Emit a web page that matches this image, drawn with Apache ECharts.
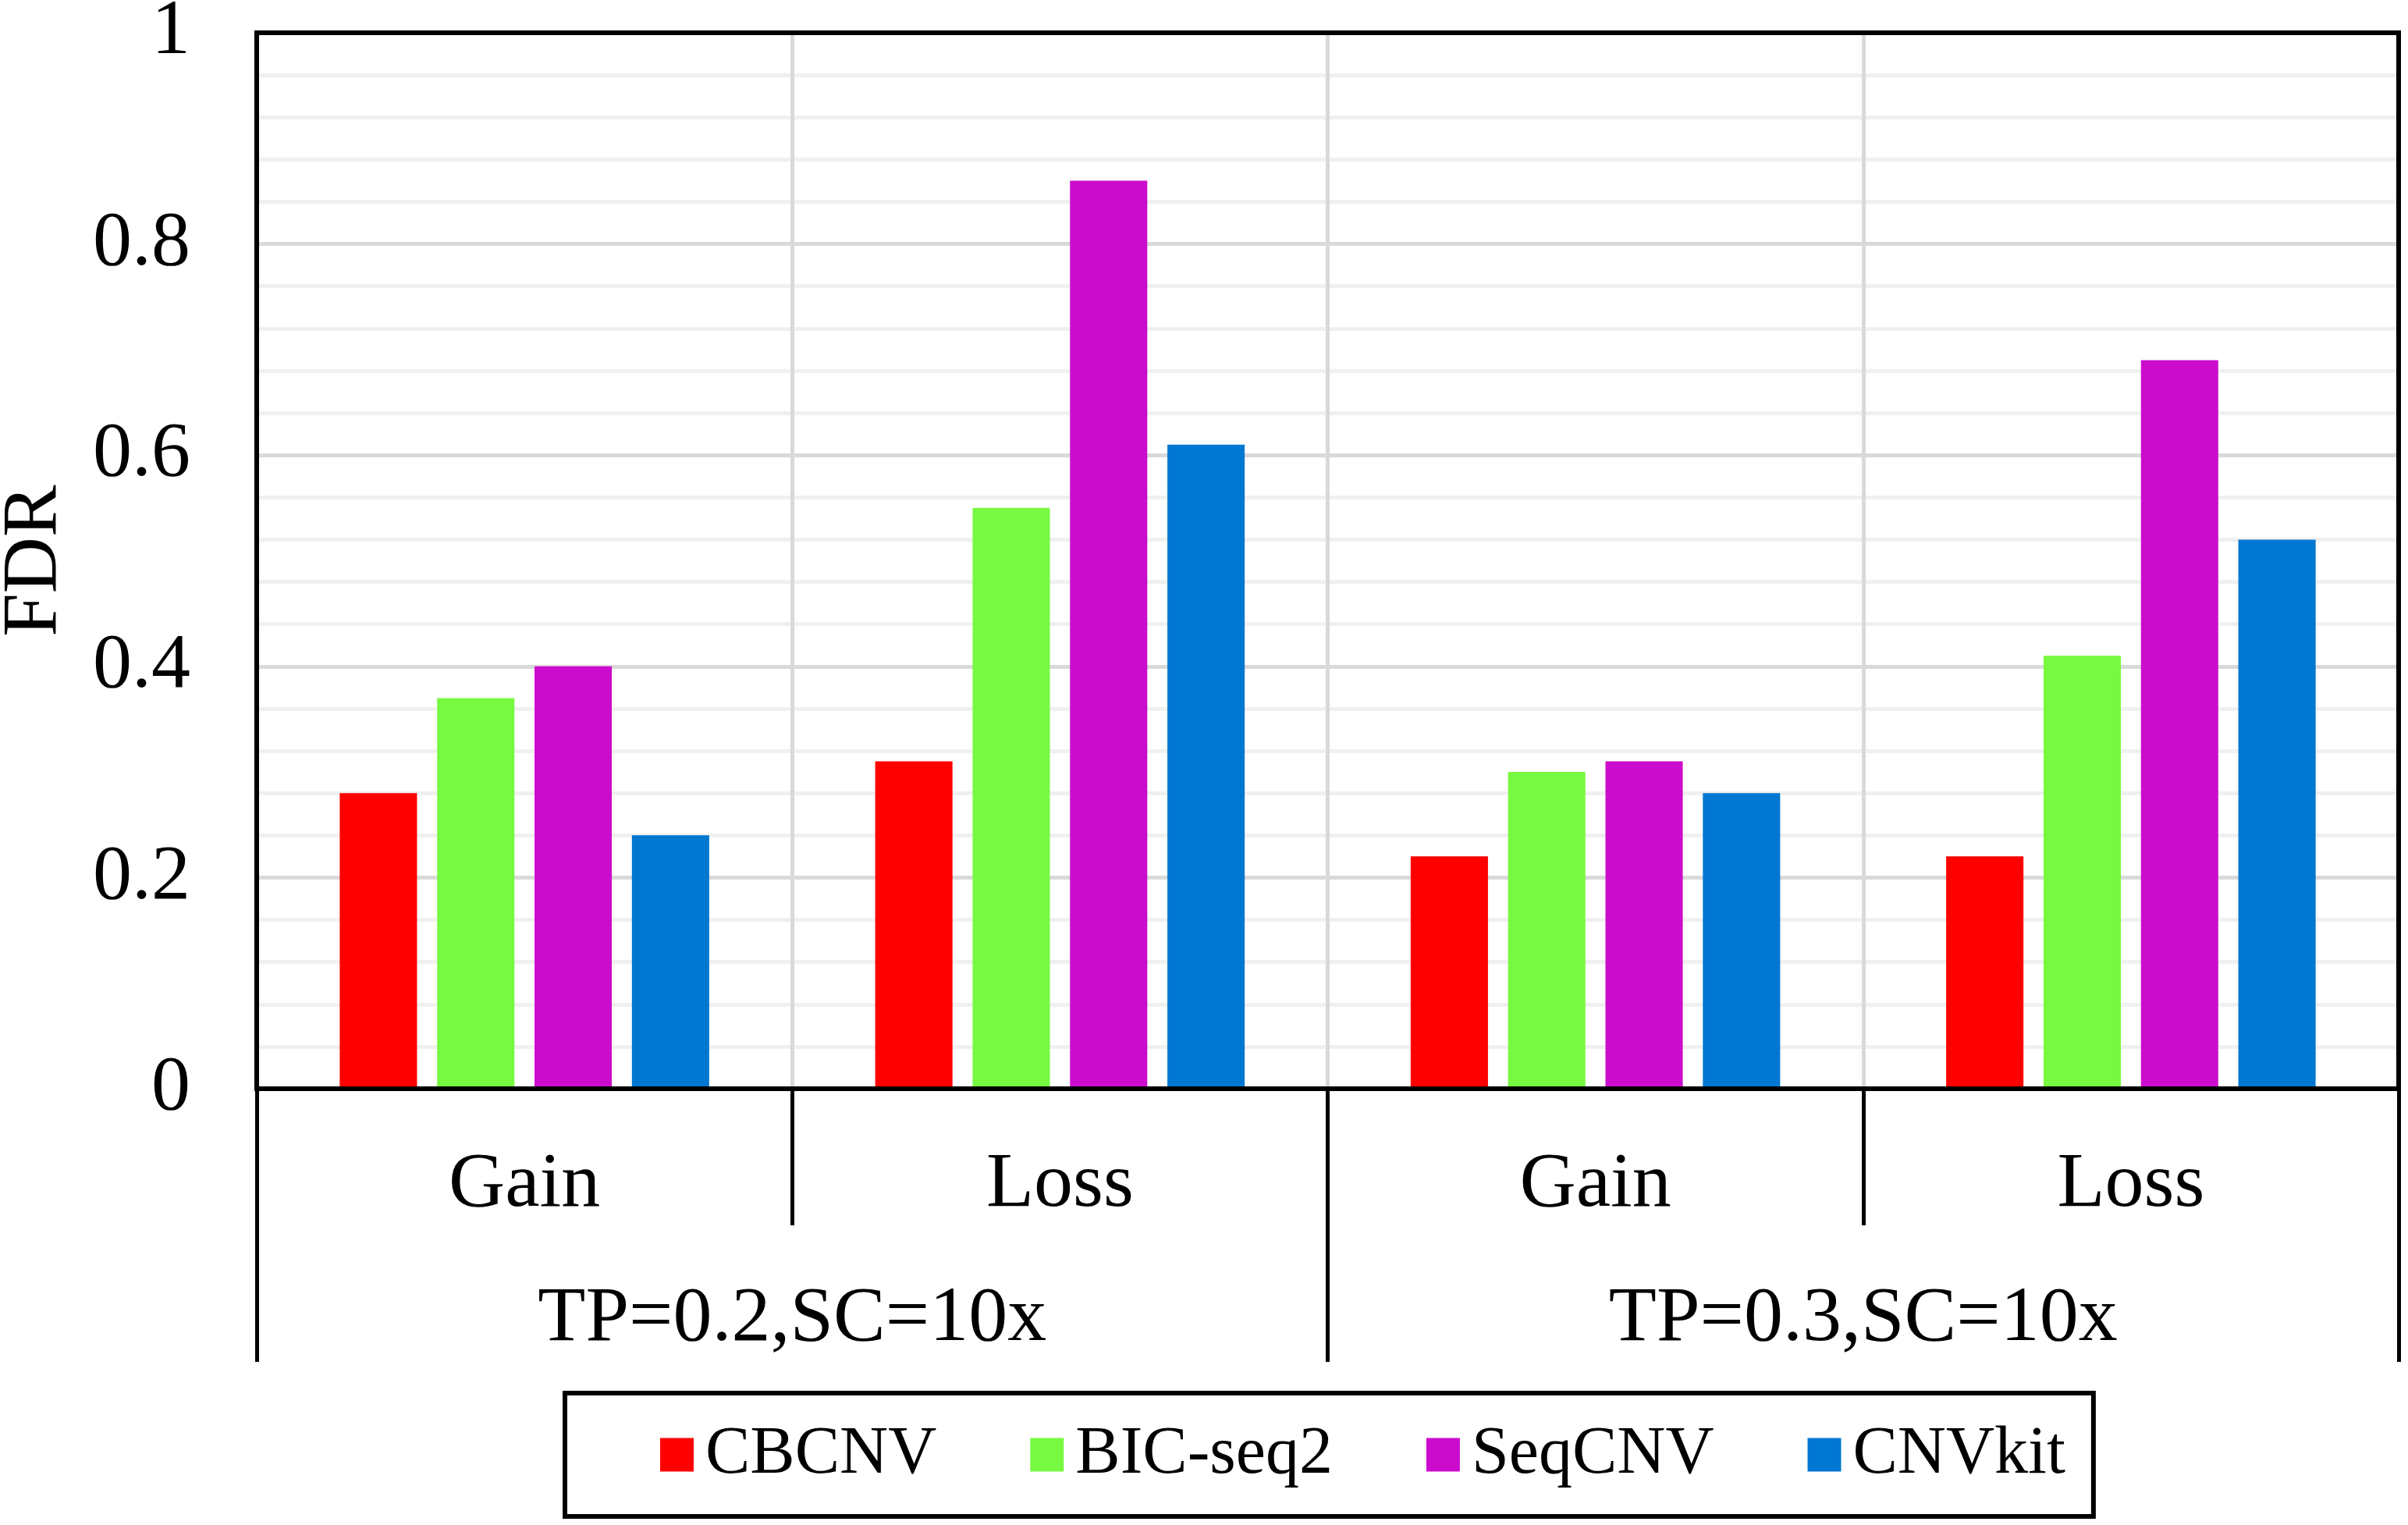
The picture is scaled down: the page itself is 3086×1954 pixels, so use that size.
<!DOCTYPE html>
<html>
<head>
<meta charset="utf-8">
<script src="https://cdn.jsdelivr.net/npm/echarts@6/dist/echarts.min.js"></script>
<style>
html, body { margin: 0; padding: 0; background: #fff; }
#chart { width: 3086px; height: 1954px; }
</style>
</head>
<body>
<div id="chart"></div>
<script>
const cats = ['Gain', 'Loss', 'Gain', 'Loss'];
const groups = ['TP=0.2,SC=10x', 'TP=0.3,SC=10x'];
const names = ['CBCNV', 'BIC-seq2', 'SeqCNV', 'CNVkit'];
const colors = ['#FF0000', '#77F941', '#CC0CCC', '#0077D0'];
const cbcnv = [0.28, 0.31, 0.22, 0.22];
const bicseq2 = [0.37, 0.55, 0.30, 0.41];
const seqcnv = [0.40, 0.86, 0.31, 0.69];
const cnvkit = [0.24, 0.61, 0.28, 0.52];
const vals = [cbcnv, bicseq2, seqcnv, cnvkit];

const font = "'Liberation Serif', 'Times New Roman', serif";

echarts.init(document.getElementById('chart')).setOption({
    animation: false,
    textStyle: { fontFamily: font, color: '#000' },
    grid: {
        left: 329, right: 12, top: 42, bottom: 559, z: 10,
        outerBoundsMode: 'none', containLabel: false,
        show: true, borderColor: '#000', borderWidth: 6, backgroundColor: 'transparent'
    },
    legend: {
        data: names, left: 724, top: 1785,
        orient: 'horizontal',
        itemWidth: 43, itemHeight: 43, itemGap: 120,
        padding: [36, 36, 36, 122],
        borderColor: '#000', borderWidth: 6,
        icon: 'rect',
        textStyle: { fontFamily: font, fontSize: 86, color: '#000', padding: [0, 0, 0, 10] }
    },
    xAxis: [
        {
            type: 'category', data: cats, position: 'bottom',
            axisLine: { show: true, lineStyle: { color: '#000', width: 5 } },
            axisTick: { show: true, length: 175, lineStyle: { color: '#000', width: 5 } },
            axisLabel: { interval: 0, margin: 74, fontSize: 100, color: '#000', fontFamily: font },
            splitLine: { show: true, lineStyle: { color: '#d9d9d9', width: 5 } }
        },
        {
            type: 'category', data: groups, position: 'bottom',
            axisLine: { show: true, lineStyle: { color: '#000', width: 5 } },
            axisTick: { show: true, length: 350, lineStyle: { color: '#000', width: 5 } },
            axisLabel: { interval: 0, margin: 246, fontSize: 100, color: '#000', fontFamily: font },
            splitLine: { show: false }
        }
    ],
    yAxis: {
        type: 'value', min: 0, max: 1, interval: 0.2,
        name: 'FDR', nameLocation: 'middle', nameGap: 234,
        nameTextStyle: { fontSize: 100, color: '#000', fontFamily: font },
        axisLine: { show: true, lineStyle: { color: '#000', width: 5 } },
        axisTick: { show: false },
        axisLabel: { margin: 85, fontSize: 100, color: '#000', fontFamily: font },
        splitLine: { lineStyle: { color: '#d9d9d9', width: 5 } },
        minorTick: { show: false, splitNumber: 5 },
        minorSplitLine: { show: true, lineStyle: { color: '#f0f0f0', width: 5 } }
    },
    series: names.map((n, i) => ({
        name: n, type: 'bar', xAxisIndex: 0,
        data: vals[i],
        itemStyle: { color: colors[i] },
        barGap: '26%', barCategoryGap: '31%'
    }))
});
</script>
</body>
</html>
